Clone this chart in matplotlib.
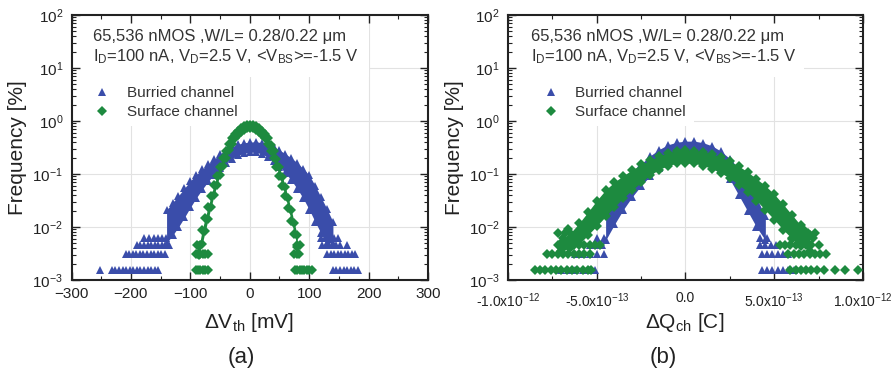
import numpy as np
import matplotlib
matplotlib.use('Agg')
import matplotlib.pyplot as plt
from matplotlib.patches import Rectangle
from matplotlib.lines import Line2D
from matplotlib.ticker import FixedLocator, LogLocator, NullFormatter, MultipleLocator, FixedFormatter

plt.rcParams['font.family'] = ['Liberation Sans', 'DejaVu Sans']
plt.rcParams['mathtext.fontset'] = 'custom'
plt.rcParams['mathtext.rm'] = 'Liberation Sans'
plt.rcParams['mathtext.it'] = 'Liberation Sans:italic'
plt.rcParams['mathtext.bf'] = 'Liberation Sans:bold'

N_DEV = 65536            # devices -> one count = 100/65536 %
BLUE = '#3a4daa'
GREEN = '#1d8a3f'
TXT = '#333333'

# ---------------- (a) dVth [mV] ----------------
# buried channel: band edges (log10 of frequency in %)
bur_a_x = [-140, -130, -120, -110, -100, -90, -80, -70, -60, -50, -40, -30, -20, -10, 0,
           10, 20, 30, 40, 50, 60, 70, 80, 90, 100, 110, 120, 130, 140]
bur_a_hi = [-1.68, -1.54, -1.41, -1.27, -1.13, -1.01, -0.91, -0.81, -0.72, -0.63, -0.55, -0.49, -0.44, -0.41, -0.40,
            -0.39, -0.41, -0.44, -0.49, -0.55, -0.62, -0.70, -0.79, -0.90, -1.02, -1.22, -1.44, -1.66, -1.90]
bur_a_lo = [-2.30, -2.16, -2.00, -1.82, -1.63, -1.45, -1.29, -1.14, -1.01, -0.89, -0.79, -0.71, -0.65, -0.61, -0.59,
            -0.59, -0.62, -0.68, -0.76, -0.86, -0.98, -1.12, -1.28, -1.46, -1.67, -1.90, -2.12, -2.30, -2.30]
# buried channel tails: x positions at 1..4 device counts
bur_a_c1 = [-252, -232, -226, -220, -214, -208, -202, -196, -190, -184, -178, -172, -166, -160, -154,
            140, 146, 152, 158, 164, 170, 176, 182]
bur_a_c2 = [-209, -203, -197, -191, -185, -179, -173, -167, -161, -155, -149, -143,
            130, 136, 142, 148, 154, 160, 166, 172, 177]
bur_a_c3 = [-190, -184, -178, -172, -166, -160, -154, -148, -142, -136, 122, 128, 134, 140, 146, 152, 163]
bur_a_c4 = [-178, -170, -162, -155, -148, -141, 120, 127, 134, 141, 148]

# surface channel
sur_a_x = [-85, -80, -75, -70, -65, -60, -55, -50, -45, -40, -35, -30, -25, -20, -15, -10, -5, 0,
           5, 10, 15, 20, 25, 30, 35, 40, 45, 50, 55, 60, 65, 70, 75, 80]
sur_a_hi = [-2.35, -2.05, -1.83, -1.62, -1.41, -1.21, -1.03, -0.86, -0.70, -0.56, -0.44, -0.33, -0.24, -0.18, -0.13, -0.10, -0.08, -0.07,
            -0.08, -0.10, -0.13, -0.18, -0.24, -0.33, -0.45, -0.57, -0.71, -0.87, -1.05, -1.25, -1.46, -1.68, -1.92, -2.16]
sur_a_lo = [-2.52, -2.32, -2.08, -1.85, -1.62, -1.40, -1.20, -1.01, -0.84, -0.69, -0.55, -0.44, -0.33, -0.27, -0.21, -0.17, -0.14, -0.13,
            -0.14, -0.17, -0.21, -0.27, -0.33, -0.44, -0.56, -0.70, -0.86, -1.03, -1.22, -1.42, -1.65, -1.89, -2.13, -2.38]
sur_a_c1 = [-91, -87, -83, -79, -75, -71, 76, 80, 84, 88, 92, 96, 100, 104]
sur_a_c2 = [-91, -87, -83, -79, -75, -71, 75, 79, 83]
sur_a_c3 = [-88, -84, 80, 84]

# ---------------- (b) dQch [x1e-13 C] ----------------
bur_b_x = [-4.5, -4.0, -3.5, -3.0, -2.5, -2.0, -1.5, -1.0, -0.5, 0.0,
           0.5, 1.0, 1.5, 2.0, 2.5, 3.0, 3.5, 4.0, 4.5]
bur_b_hi = [-1.75, -1.47, -1.22, -1.00, -0.81, -0.66, -0.54, -0.45, -0.40, -0.38,
            -0.38, -0.41, -0.47, -0.57, -0.71, -0.90, -1.15, -1.45, -1.80]
bur_b_lo = [-2.25, -1.95, -1.67, -1.43, -1.22, -1.04, -0.88, -0.77, -0.70, -0.66,
            -0.66, -0.70, -0.77, -0.88, -1.10, -1.40, -1.70, -2.00, -2.25]
bur_b_c1 = [-7.0, -6.6, -6.2, -5.8, -5.4, -5.1, 4.3, 4.6, 4.9, 5.2, 5.5, 5.8, 6.1]
bur_b_c2 = [-6.2, -5.8, -5.4, -5.0, -4.6, 4.3, 4.6, 4.9, 5.2, 5.5, 5.8]
bur_b_c3 = [-5.4, -5.0, -4.7, 4.2, 4.5, 4.8, 5.1]
bur_b_c4 = [-5.0, -4.6, 4.2, 4.6]

sur_b_x = [-7.0, -6.5, -6.0, -5.5, -5.0, -4.5, -4.0, -3.5, -3.0, -2.5, -2.0, -1.5, -1.0, -0.5, 0.0,
           0.5, 1.0, 1.5, 2.0, 2.5, 3.0, 3.5, 4.0, 4.5, 5.0, 5.5, 6.0, 6.5, 7.0]
sur_b_hi = [-2.30, -2.12, -1.93, -1.72, -1.50, -1.30, -1.15, -1.03, -0.92, -0.82, -0.74, -0.66, -0.60, -0.56, -0.55,
            -0.56, -0.58, -0.62, -0.68, -0.76, -0.85, -0.96, -1.09, -1.22, -1.38, -1.57, -1.77, -1.97, -2.16]
sur_b_lo = [-2.45, -2.40, -2.30, -2.15, -1.98, -1.80, -1.62, -1.45, -1.30, -1.16, -1.02, -0.92, -0.84, -0.80, -0.79,
            -0.80, -0.84, -0.90, -0.98, -1.08, -1.20, -1.34, -1.50, -1.68, -1.86, -2.05, -2.22, -2.35, -2.45]
sur_b_c1 = [-8.5, -8.2, -7.9, -7.6, -7.3, -7.0, -6.7, -6.4, -6.1, -5.8, -5.5, -5.3,
            5.9, 6.2, 6.5, 6.8, 7.1, 7.4, 7.8, 8.4, 9.0, 9.7]
sur_b_c2 = [-7.8, -7.5, -7.2, -6.9, -6.6, -6.3, -6.0, -5.7, -5.4, 5.8, 6.1, 6.4, 6.7, 7.0, 7.3, 7.6, 7.9]
sur_b_c3 = [-7.2, -6.9, -6.6, -6.3, -6.0, -5.7, -5.4, -5.1, -4.8, 5.3, 5.6, 5.9, 6.2, 6.5, 6.8, 7.1, 7.5]
sur_b_c4 = [-6.9, -6.5, -6.2, -5.9, 6.0, 6.4, 6.8, 7.2]
sur_b_c5 = [-7.2, -6.8, 6.9, 7.3]
sur_b_c6 = [-6.6, 6.6]

QSCALE = 1e-13

qb_ticks = [-1e-12, -5e-13, 0.0, 5e-13, 1e-12]
qb_labels = [r'-1.0x10$^{-12}$', r'-5.0x10$^{-13}$', '0.0', r'5.0x10$^{-13}$', r'1.0x10$^{-12}$']


def draw_cloud(ax, x, hi, lo, rows, color, marker, ms, z, scale=1.0):
    xs = np.asarray(x) * scale
    yh = 10.0 ** np.asarray(hi)
    yl = 10.0 ** np.asarray(lo)
    ax.fill_between(xs, yl, yh, color=color, lw=0, zorder=z)
    for y in (yh, yl):
        ax.plot(xs, y, ls='none', marker=marker, ms=ms, color=color, mew=0, zorder=z)
    for cnt, xr in rows:
        xr = np.asarray(xr) * scale
        ax.plot(xr, np.full(len(xr), cnt * 100.0 / N_DEV), ls='none', marker=marker,
                ms=ms, color=color, mew=0, zorder=z)


def style_axes(ax, legend_right):
    ax.set_yscale('log')
    ax.set_ylim(1e-3, 1e2)
    ax.yaxis.set_major_locator(LogLocator(base=10, numticks=10))
    ax.yaxis.set_minor_locator(LogLocator(base=10, subs=np.arange(2, 10), numticks=10))
    ax.yaxis.set_minor_formatter(NullFormatter())
    ax.tick_params(which='both', direction='in', top=True, right=True, colors='#222222',
                   labelsize=11)
    ax.tick_params(which='major', length=6, width=1.0)
    ax.tick_params(which='minor', length=3, width=0.8)
    ax.tick_params(axis='x', pad=5)
    ax.tick_params(axis='y', pad=6)
    for sp in ax.spines.values():
        sp.set_linewidth(1.5)
        sp.set_color('#222222')
    # light grid, drawn by hand so the text boxes can sit on top of it
    xl = ax.get_xlim()
    for xv in ax.get_xticks():
        if xl[0] < xv < xl[1]:
            ax.axvline(xv, color='#e2e2e2', lw=0.8, zorder=0.5)
    for yv in [1e-2, 1e-1, 1e0, 1e1]:
        ax.axhline(yv, color='#e2e2e2', lw=0.8, zorder=0.5)
    ax.add_patch(Rectangle((0.004, 0.766), 0.83, 0.23, transform=ax.transAxes,
                           facecolor='white', edgecolor='none', zorder=1))
    ax.add_patch(Rectangle((0.004, 0.58), legend_right, 0.19, transform=ax.transAxes,
                           facecolor='white', edgecolor='none', zorder=1))


def annotate(ax, x0, leg_x):
    ax.text(x0, 0.917, '65,536 nMOS ,W/L= 0.28/0.22 μm', transform=ax.transAxes,
            fontsize=12, color=TXT, va='center', ha='left', zorder=5)
    ax.text(x0, 0.842, r'I$_\mathrm{D}$=100 nA, V$_\mathrm{D}$=2.5 V, <V$_\mathrm{BS}$>=-1.5 V',
            transform=ax.transAxes, fontsize=12, color=TXT, va='center', ha='left', zorder=5)
    handles = [Line2D([], [], ls='none', marker='^', ms=6, color=BLUE, mew=0),
               Line2D([], [], ls='none', marker='D', ms=5, color=GREEN, mew=0)]
    leg = ax.legend(handles, ['Burried channel', 'Surface channel'], loc='upper left',
                    bbox_to_anchor=(leg_x, 0.772), frameon=False, fontsize=11,
                    handlelength=1.2, handletextpad=1.0, labelspacing=0.35, borderpad=0.2)
    for t in leg.get_texts():
        t.set_color(TXT)
    leg.set_zorder(5)


def main():
    fig = plt.figure(figsize=(8.95, 3.74), dpi=100)
    ax_a = fig.add_axes([0.0799, 0.2513, 0.3983, 0.7086])
    ax_b = fig.add_axes([0.5676, 0.2513, 0.3966, 0.7086])

    # (a)
    ax_a.set_xlim(-300, 300)
    ax_a.xaxis.set_major_locator(MultipleLocator(100))
    ax_a.xaxis.set_minor_locator(MultipleLocator(50))
    style_axes(ax_a, 0.48)
    draw_cloud(ax_a, bur_a_x, bur_a_hi, bur_a_lo,
               [(1, bur_a_c1), (2, bur_a_c2), (3, bur_a_c3), (4, bur_a_c4)],
               BLUE, '^', 5.6, 2)
    draw_cloud(ax_a, sur_a_x, sur_a_hi, sur_a_lo,
               [(1, sur_a_c1), (2, sur_a_c2), (3, sur_a_c3)],
               GREEN, 'D', 4.8, 3)
    annotate(ax_a, 0.06, 0.03)

    # (b)
    ax_b.set_xlim(-1e-12, 1e-12)
    ax_b.xaxis.set_major_locator(FixedLocator(qb_ticks))
    ax_b.xaxis.set_major_formatter(FixedFormatter(qb_labels))
    ax_b.xaxis.set_minor_locator(MultipleLocator(2.5e-13))
    style_axes(ax_b, 0.52)
    ax_b.tick_params(axis='x', labelsize=10, pad=8)
    draw_cloud(ax_b, bur_b_x, bur_b_hi, bur_b_lo,
               [(1, bur_b_c1), (2, bur_b_c2), (3, bur_b_c3), (4, bur_b_c4)],
               BLUE, '^', 5.6, 2, QSCALE)
    draw_cloud(ax_b, sur_b_x, sur_b_hi, sur_b_lo,
               [(1, sur_b_c1), (2, sur_b_c2), (3, sur_b_c3), (4, sur_b_c4),
                (5, sur_b_c5), (6, sur_b_c6)],
               GREEN, 'D', 4.8, 3, QSCALE)
    annotate(ax_b, 0.065, 0.065)

    # axis titles and panel tags
    fig.text(0.278, 0.139, r'ΔV$_\mathrm{th}$ [mV]', fontsize=15, color='#222222', ha='center', va='center')
    fig.text(0.765, 0.139, r'ΔQ$_\mathrm{ch}$ [C]', fontsize=15, color='#222222', ha='center', va='center')
    fig.text(0.270, 0.045, '(a)', fontsize=16, color='#222222', ha='center', va='center')
    fig.text(0.741, 0.045, '(b)', fontsize=16, color='#222222', ha='center', va='center')
    for xf in (0.019, 0.508):
        fig.text(xf, 0.604, 'Frequency [%]', fontsize=15, color='#222222', rotation=90,
                 ha='center', va='center')

    fig.savefig('out.png', dpi=100)


if __name__ == '__main__':
    main()
